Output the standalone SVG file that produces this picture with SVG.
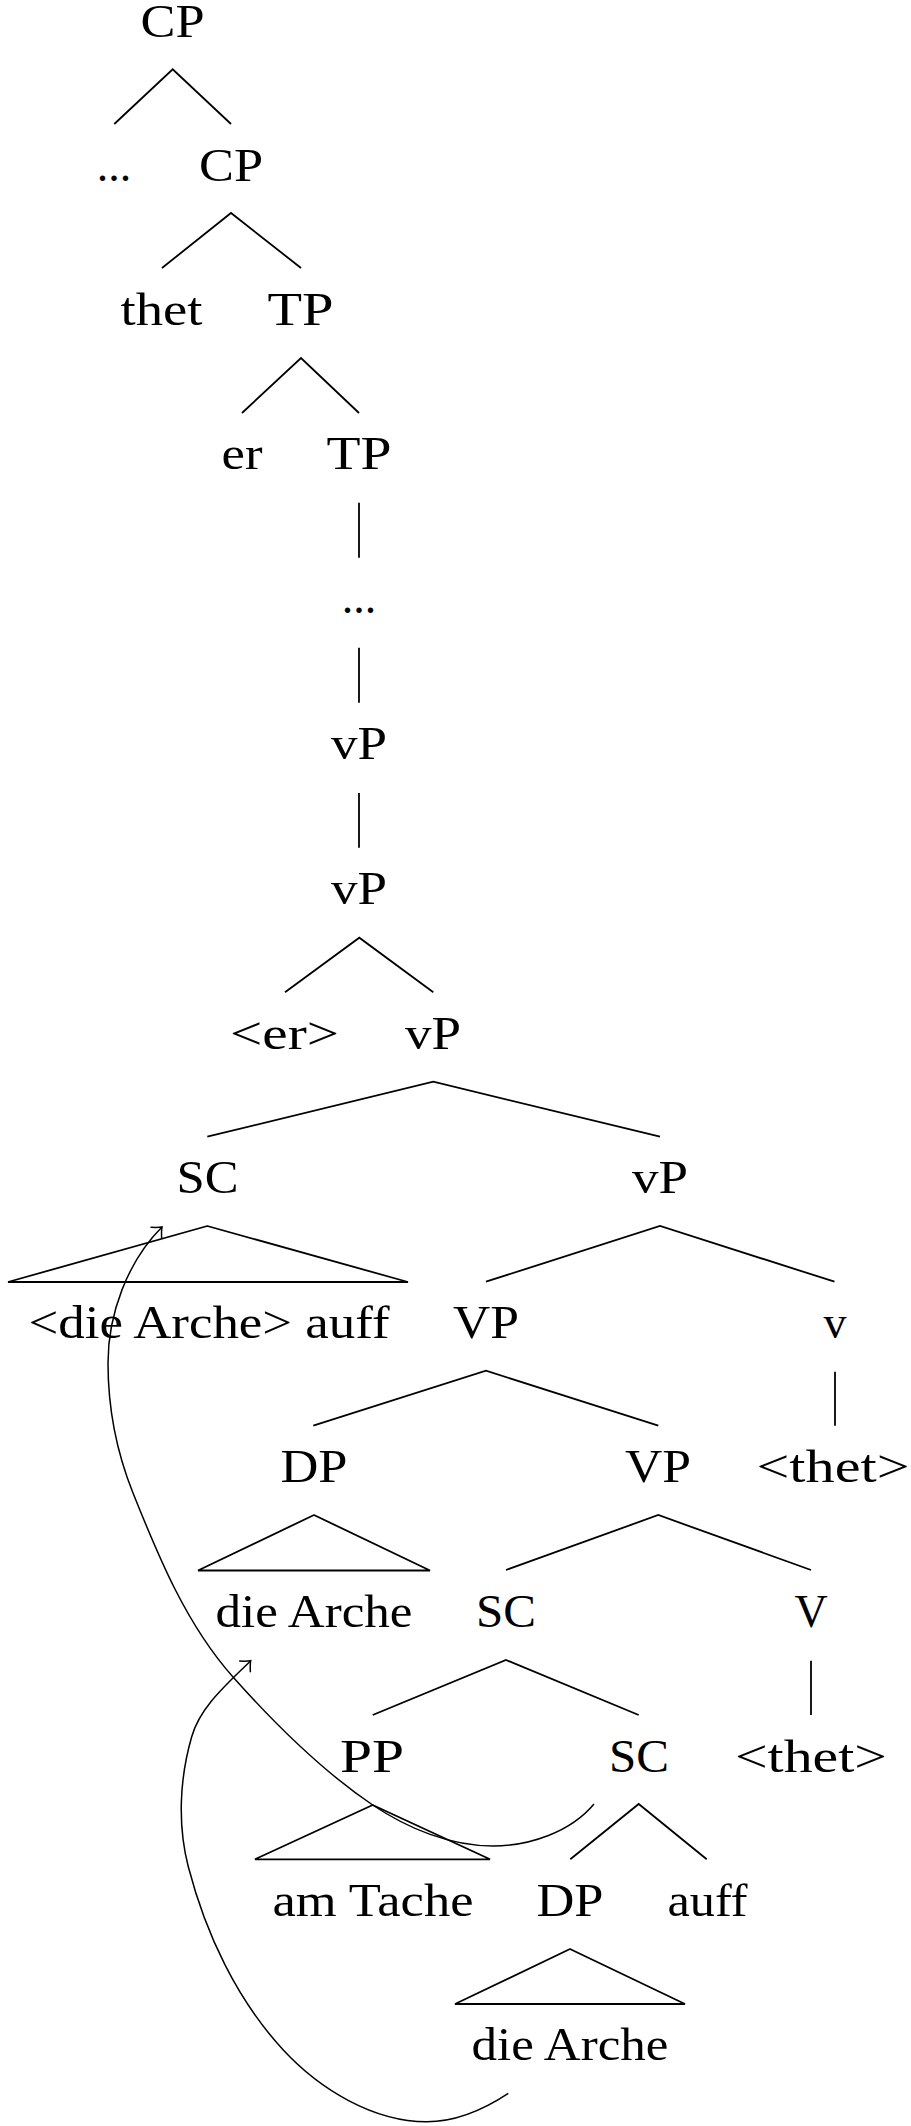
<svg xmlns="http://www.w3.org/2000/svg" width="911" height="2126" viewBox="0 0 911 2126">
<style>
.t{font-family:"Liberation Serif","Times New Roman",serif;font-size:46px;text-anchor:middle;fill:#000}
.e{stroke:#000;stroke-width:1.8;fill:none;stroke-linecap:butt}
.tri{stroke:#000;stroke-width:1.8;fill:none;stroke-linejoin:bevel}
.mv{stroke:#000;stroke-width:1.5;fill:none}
</style>
<defs>
<marker id="arr" markerUnits="userSpaceOnUse" markerWidth="24" markerHeight="24" refX="0" refY="0" orient="auto" viewBox="-12 -12 24 24" overflow="visible">
<path d="M -8,-7.5 Q -3,-2 0,0 Q -3,2 -8,7.5" stroke="#000" stroke-width="1.5" fill="none" stroke-linecap="round"/>
</marker>
</defs>
<rect width="911" height="2126" fill="#fff"/>
<g id="connectors">
<path class="e" d="M114.3,124 L172.7,69.3 L231,124"/>
<path class="e" d="M162,268 L231,213 L301,268"/>
<path class="e" d="M242,413 L301,358 L359,413"/>
<path class="e" d="M359,502.7 V557.7"/>
<path class="e" d="M359,647.7 V702.7"/>
<path class="e" d="M359,793 V847.7"/>
<path class="e" d="M285,992.3 L359.3,937.7 L433.3,992.3"/>
<path class="e" d="M207.3,1136.7 L433.3,1081.7 L660,1136.7"/>
<polygon class="tri" points="207.3,1226 8,1282 408,1282"/>
<path class="e" d="M486,1281.7 L660,1226 L834.5,1281.7"/>
<path class="e" d="M313.3,1425.7 L486,1370.7 L658.3,1425.7"/>
<path class="e" d="M835,1371.7 V1425.7"/>
<polygon class="tri" points="314,1515 198,1570.5 430,1570.5"/>
<path class="e" d="M506,1570 L658.3,1515 L811,1570"/>
<path class="e" d="M372.7,1715 L506,1660 L638.7,1715"/>
<path class="e" d="M811,1660.7 V1715"/>
<polygon class="tri" points="372.7,1805 255,1859.3 490,1859.3"/>
<path class="e" d="M570.3,1859.3 L638.7,1804 L706.7,1859.3"/>
<polygon class="tri" points="570,1949 455,2004 685,2004"/>
<path class="mv" marker-end="url(#arr)" d="M594,1804 C570.7,1832 529.4,1846 493,1846 C450.6,1846 407.9,1828.7 372.7,1805 C320.2,1769.6 275,1724.2 233,1677 C186.6,1624.9 158.9,1557.8 133,1493 C116.6,1452.1 108,1407.1 108,1363 C108,1314.2 127.5,1261.5 162,1227"/>
<path class="mv" marker-end="url(#arr)" d="M508.3,2093.3 C484.4,2109.1 455.5,2121.7 426.7,2121.7 C373.3,2121.7 319.6,2089.2 283.3,2050 C236.6,1999.5 205.6,1933.3 188.3,1866.7 C177.4,1824.7 179.6,1778.4 191.7,1736.7 C200.7,1705.9 228,1683.4 250.7,1660.7"/>
</g>
<g id="n-cp0"><text class="t" x="172.5" y="37" textLength="64" lengthAdjust="spacingAndGlyphs">CP</text></g>
<g id="n-dots1"><text class="t" x="114" y="181">...</text></g>
<g id="n-cp1"><text class="t" x="231" y="181" textLength="64" lengthAdjust="spacingAndGlyphs">CP</text></g>
<g id="n-thet"><text class="t" x="161.5" y="325" textLength="82" lengthAdjust="spacingAndGlyphs">thet</text></g>
<g id="n-tp1"><text class="t" x="300.5" y="325" textLength="66" lengthAdjust="spacingAndGlyphs">TP</text></g>
<g id="n-er"><text class="t" x="242" y="469" textLength="41" lengthAdjust="spacingAndGlyphs">er</text></g>
<g id="n-tp2"><text class="t" x="359" y="469" textLength="65" lengthAdjust="spacingAndGlyphs">TP</text></g>
<g id="n-dots2"><text class="t" x="359" y="613">...</text></g>
<g id="n-vp1"><text class="t" x="359" y="759" textLength="56" lengthAdjust="spacingAndGlyphs">vP</text></g>
<g id="n-vp2"><text class="t" x="359" y="904" textLength="56" lengthAdjust="spacingAndGlyphs">vP</text></g>
<g id="n-er-trace"><text class="t" x="284.5" y="1049" textLength="109" lengthAdjust="spacingAndGlyphs">&lt;er&gt;</text></g>
<g id="n-vp3"><text class="t" x="433" y="1049" textLength="56" lengthAdjust="spacingAndGlyphs">vP</text></g>
<g id="n-sc1"><text class="t" x="207.5" y="1193" textLength="62" lengthAdjust="spacingAndGlyphs">SC</text></g>
<g id="n-vp4"><text class="t" x="660" y="1193" textLength="56" lengthAdjust="spacingAndGlyphs">vP</text></g>
<g id="n-sc1-leaf"><text class="t" x="209" y="1338" textLength="361" lengthAdjust="spacingAndGlyphs">&lt;die Arche&gt; auff</text></g>
<g id="n-vp-big1"><text class="t" x="486" y="1338" textLength="66" lengthAdjust="spacingAndGlyphs">VP</text></g>
<g id="n-v"><text class="t" x="835" y="1338">v</text></g>
<g id="n-dp1"><text class="t" x="314" y="1482" textLength="67" lengthAdjust="spacingAndGlyphs">DP</text></g>
<g id="n-vp-big2"><text class="t" x="658" y="1482" textLength="66" lengthAdjust="spacingAndGlyphs">VP</text></g>
<g id="n-thet-trace1"><text class="t" x="833" y="1482" textLength="153" lengthAdjust="spacingAndGlyphs">&lt;thet&gt;</text></g>
<g id="n-dp1-leaf"><text class="t" x="314" y="1627" textLength="197" lengthAdjust="spacingAndGlyphs">die Arche</text></g>
<g id="n-sc2"><text class="t" x="506" y="1627" textLength="60" lengthAdjust="spacingAndGlyphs">SC</text></g>
<g id="n-V"><text class="t" x="811" y="1627">V</text></g>
<g id="n-pp"><text class="t" x="372" y="1772" textLength="64" lengthAdjust="spacingAndGlyphs">PP</text></g>
<g id="n-sc3"><text class="t" x="639" y="1772" textLength="60" lengthAdjust="spacingAndGlyphs">SC</text></g>
<g id="n-thet-trace2"><text class="t" x="811" y="1772" textLength="152" lengthAdjust="spacingAndGlyphs">&lt;thet&gt;</text></g>
<g id="n-pp-leaf"><text class="t" x="373" y="1916" textLength="201" lengthAdjust="spacingAndGlyphs">am Tache</text></g>
<g id="n-dp2"><text class="t" x="570" y="1916" textLength="67" lengthAdjust="spacingAndGlyphs">DP</text></g>
<g id="n-auff"><text class="t" x="707.5" y="1916" textLength="80" lengthAdjust="spacingAndGlyphs">auff</text></g>
<g id="n-dp2-leaf"><text class="t" x="570" y="2060" textLength="197" lengthAdjust="spacingAndGlyphs">die Arche</text></g>
</svg>
